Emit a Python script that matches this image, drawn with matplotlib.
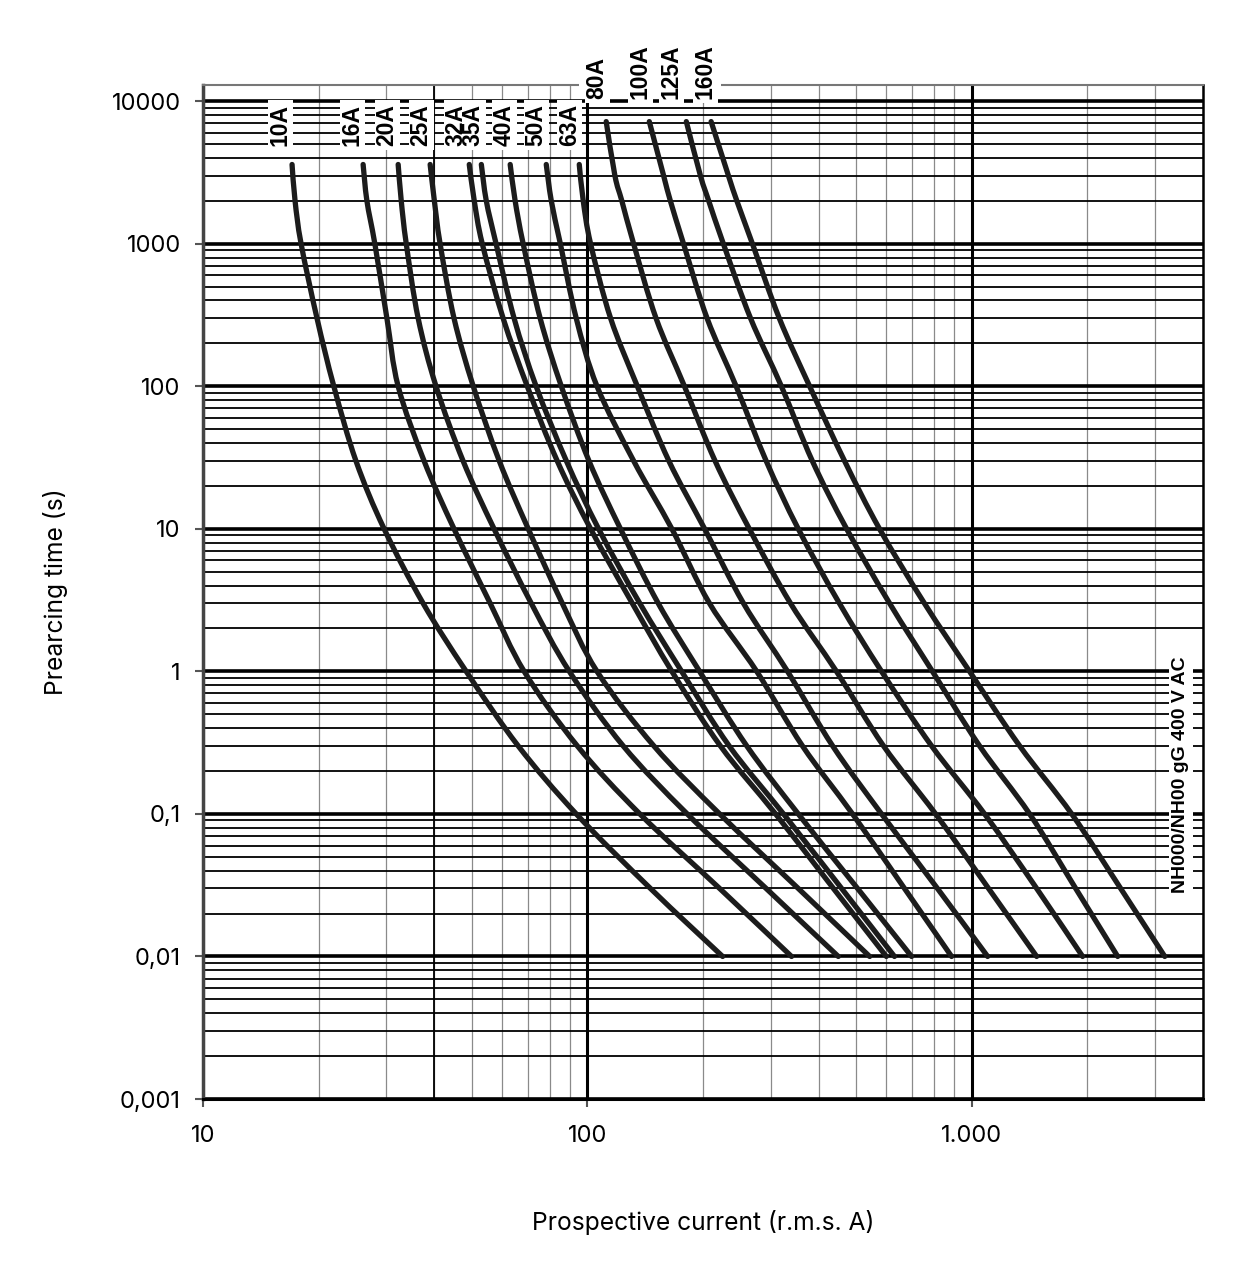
import numpy as np
import matplotlib.pyplot as plt
import matplotlib.transforms as mtransforms
from matplotlib.patches import Rectangle, PathPatch
from matplotlib.path import Path
from matplotlib.ticker import LogLocator, NullFormatter

plt.rcParams['font.family'] = ['Inter', 'DejaVu Sans']

# fuse ratings and prearcing times (s) at which the currents were read
ratings = ['10A', '16A', '20A', '25A', '32A', '35A', '40A', '50A', '63A',
           '80A', '100A', '125A', '160A']
t_low = [3600, 2000, 1000, 300, 100, 30, 10, 3, 1, 0.3, 0.1, 0.03, 0.01]
t_high = [7200, 3000, 2000, 1000, 300, 100, 30, 10, 3, 1, 0.3, 0.1, 0.03, 0.01]

# prospective current (A) for each fuse
c10 = [17.05, 17.36, 18.0, 19.8, 21.9, 25.0, 29.6, 37.4, 48.4, 66.1, 93.6, 146, 225]
c16 = [26.1, 26.7, 28.0, 30.1, 32.2, 37.6, 45.0, 55.9, 68.5, 94.2, 137, 221, 340]
c20 = [32.2, 32.8, 33.8, 36.3, 40.4, 47.5, 57.2, 71.5, 89.8, 124, 182, 292, 450]
c25 = [39.0, 40.0, 41.4, 45.0, 50.5, 59.0, 70.2, 86.1, 106, 149, 221, 354, 543]
c32 = [49.3, 50.8, 53.3, 60.4, 69.8, 83.5, 102, 131, 166, 222, 309, 437, 600]
c35 = [53.0, 54.6, 57.9, 64.5, 73.6, 88.2, 107, 137, 176, 234, 324, 459, 630]
c40 = [63.0, 64.9, 68.1, 75.4, 85.6, 101, 122, 153, 196, 260, 354, 505, 698]
c50 = [78.2, 80.6, 85.1, 93.6, 106, 132, 166, 208, 276, 363, 490, 669, 887]
c63 = [95.3, 97.6, 102, 115, 135, 163, 202, 255, 332, 435, 583, 815, 1101]
c80 = [112, 118, 123, 132, 151, 179, 215, 264, 338, 445, 590, 806, 1107, 1477]
c100 = [145, 158, 164.5, 178, 205, 244, 292, 354, 453, 583, 787, 1081, 1477, 1945]
c125 = [181, 197, 207, 226, 266, 320, 385, 473, 612, 791, 1049, 1416, 1866, 2400]
c160 = [210, 233, 245, 269, 316, 379, 467, 576, 754, 988, 1334, 1822, 2443, 3182]

curves = [c10, c16, c20, c25, c32, c35, c40, c50, c63, c80, c100, c125, c160]

# label shift left of each curve start (points)
label_dx = [-8.6, -7.9, -7.9, -6.5, -9.4, -5.8, -4.3, -7.2, -7.2, -6.5, -6.5, -10.8, -4.3]

y_ticks = [0.001, 0.01, 0.1, 1, 10, 100, 1000, 10000]
y_tick_labels = ['0,001', '0,01', '0,1', '1', '10', '100', '1000', '10000']
x_ticks = [10, 100, 1000]
x_tick_labels = ['10', '100', '1.000']


def smooth_path(xs, ys):
    # Catmull-Rom curve through the read points, built in log-log space
    p = np.column_stack([np.log10(xs), np.log10(ys)])
    n = len(p)
    verts = [p[0]]
    codes = [Path.MOVETO]
    for i in range(n - 1):
        p0 = p[max(i - 1, 0)]
        p1 = p[i]
        p2 = p[i + 1]
        p3 = p[min(i + 2, n - 1)]
        verts += [p1 + (p2 - p0) / 6, p2 - (p3 - p1) / 6, p2]
        codes += [Path.CURVE4] * 3
    return Path(10 ** np.array(verts), codes)


fig = plt.figure(figsize=(12.57, 12.8), dpi=100)
ax = fig.add_axes([0.1615, 0.1414, 0.7955, 0.7922])
ax.set_xscale('log')
ax.set_yscale('log')
ax.set_xlim(10, 4000)
ax.set_ylim(0.001, 13000)

# grid
minor = np.arange(2, 10)
ax.xaxis.set_minor_locator(LogLocator(base=10, subs=minor, numticks=30))
ax.yaxis.set_minor_locator(LogLocator(base=10, subs=minor, numticks=30))
ax.xaxis.set_minor_formatter(NullFormatter())
ax.yaxis.set_minor_formatter(NullFormatter())
ax.set_axisbelow(True)
ax.grid(which='major', axis='y', color='black', lw=2.6)
ax.grid(which='minor', axis='y', color='black', lw=1.3)
ax.grid(which='major', axis='x', color='black', lw=2.2)
ax.grid(which='minor', axis='x', color='#8a8a8a', lw=0.9)
ax.axvline(40, color='black', lw=1.3, zorder=0.6)

ax.set_yticks(y_ticks, y_tick_labels)
ax.set_xticks(x_ticks, x_tick_labels)
ax.tick_params(which='major', direction='out', length=6, width=1.5,
               color='#555555', labelsize=17)
ax.tick_params(axis='y', pad=10)
ax.tick_params(axis='x', pad=13)
ax.tick_params(which='minor', length=0)

ax.spines['left'].set_color('#444444')
ax.spines['left'].set_linewidth(2.5)
ax.spines['bottom'].set_linewidth(2.2)
ax.spines['top'].set_color('#777777')
ax.spines['top'].set_linewidth(1.5)
ax.spines['right'].set_linewidth(1.8)

# curves and their labels
labels = []
for name, cur, dx in zip(ratings, curves, label_dx):
    times = t_low if len(cur) == len(t_low) else t_high
    ax.add_patch(PathPatch(smooth_path(cur, times), fill=False, ec='#1c1c1c',
                           lw=3.8, capstyle='round', joinstyle='round',
                           zorder=3))
    dy = 13.5 if times is t_low else 16
    lab = ax.annotate(name, xy=(cur[0], times[0]), xytext=(dx, dy),
                      textcoords='offset points', rotation=90, ha='center',
                      va='bottom', fontsize=16.5, fontweight='bold',
                      family='Liberation Sans', zorder=6,
                      annotation_clip=False)
    labels.append(lab)

# white gap in the top frame behind the upper labels
blend = mtransforms.blended_transform_factory(ax.transData, ax.transAxes)
ax.add_patch(Rectangle((95, 0.995), 223 - 95, 0.06, transform=blend,
                       fc='white', ec='none', zorder=4, clip_on=False))

ax.text(0.978, 0.3195, 'NH000/NH00 gG 400 V AC', transform=ax.transAxes,
        rotation=90, ha='center', va='center', fontsize=14, fontweight='bold',
        family='Liberation Sans', zorder=6,
        bbox=dict(boxstyle='square,pad=0.2', fc='white', ec='none'))

ax.set_xlabel('Prospective current (r.m.s. A)', fontsize=17.7)
ax.set_ylabel('Prearcing time (s)', fontsize=17.7)
ax.xaxis.set_label_coords(0.5, -0.109)
ax.yaxis.set_label_coords(-0.135, 0.5)

# white boxes behind the rating labels, kept under every label text
fig.canvas.draw()
for lab in labels:
    bb = lab.get_window_extent()
    ax.add_patch(Rectangle((bb.x0 - 1, bb.y0 - 4), bb.width + 2, bb.height + 8,
                           transform=mtransforms.IdentityTransform(),
                           fc='white', ec='none', zorder=5, clip_on=False))

fig.savefig('out.png', dpi=100)
